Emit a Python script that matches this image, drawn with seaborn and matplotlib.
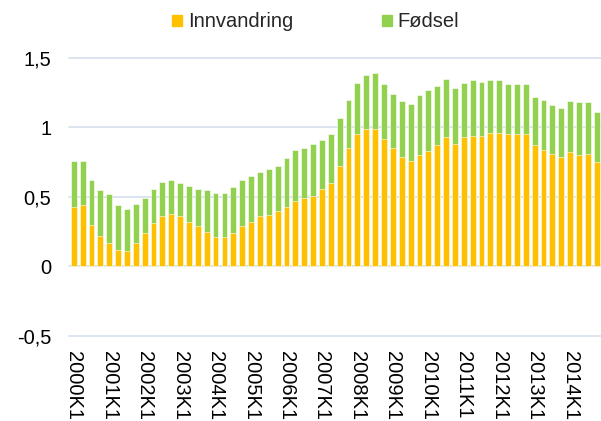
import matplotlib
matplotlib.use('Agg')
import matplotlib.pyplot as plt
from matplotlib.patches import Patch
from matplotlib.ticker import FuncFormatter
import seaborn as sns
import pandas as pd

# kvartaler 2000K1 - 2014K4
kvartal = [f'{aar}K{k}' for aar in range(2000, 2015) for k in range(1, 5)]

innvandring = [0.43, 0.44, 0.30, 0.22, 0.17, 0.12, 0.11, 0.17, 0.24, 0.31,
               0.36, 0.38, 0.36, 0.32, 0.29, 0.25, 0.21, 0.21, 0.24, 0.29,
               0.32, 0.36, 0.37, 0.40, 0.43, 0.47, 0.49, 0.51, 0.56, 0.60,
               0.72, 0.85, 0.95, 0.99, 0.99, 0.92, 0.85, 0.79, 0.76, 0.80,
               0.83, 0.87, 0.93, 0.88, 0.93, 0.94, 0.94, 0.96, 0.96, 0.95,
               0.95, 0.95, 0.87, 0.84, 0.81, 0.79, 0.82, 0.80, 0.81, 0.75]

fodsel = [0.33, 0.32, 0.32, 0.33, 0.35, 0.32, 0.30, 0.28, 0.25, 0.25,
          0.25, 0.24, 0.24, 0.26, 0.27, 0.30, 0.32, 0.32, 0.33, 0.33,
          0.33, 0.32, 0.33, 0.32, 0.35, 0.37, 0.36, 0.37, 0.35, 0.35,
          0.35, 0.35, 0.37, 0.39, 0.40, 0.39, 0.39, 0.40, 0.41, 0.43,
          0.44, 0.43, 0.42, 0.40, 0.39, 0.40, 0.39, 0.38, 0.38, 0.36,
          0.36, 0.36, 0.35, 0.36, 0.35, 0.35, 0.37, 0.38, 0.37, 0.36]

df = pd.DataFrame({'kvartal': kvartal, 'Innvandring': innvandring, 'Fødsel': fodsel})
df['total'] = df['Innvandring'] + df['Fødsel']

orange = '#FFC000'
green = '#92D050'

sns.set_theme(style='white')
plt.rcParams['font.family'] = ['Liberation Sans', 'DejaVu Sans']

fig = plt.figure(figsize=(6.01, 4.21), dpi=100)
ax = fig.add_axes([0.1153, 0.2019, 0.885, 0.6606])

# stablet: totalen i grønt, innvandring oppå i oransje
sns.barplot(data=df, x='kvartal', y='total', color=green, width=0.66,
            edgecolor='white', linewidth=0.4, saturation=1, ax=ax)
sns.barplot(data=df, x='kvartal', y='Innvandring', color=orange, width=0.66,
            edgecolor='white', linewidth=0.4, saturation=1, ax=ax)

ax.set_ylim(-0.5, 1.5)
ax.set_xlim(-0.5, 59.5)
ax.set_yticks([-0.5, 0, 0.5, 1, 1.5])
ax.yaxis.set_major_formatter(FuncFormatter(lambda v, p: f'{v:g}'.replace('.', ',')))
for yv in [-0.5, 0, 0.5, 1, 1.5]:
    ax.axhline(yv, color='#dce5ef', lw=1.4, zorder=0, clip_on=False)

pos = list(range(0, 60, 4))
ax.set_xticks(pos)
ax.set_xticklabels([kvartal[i] for i in pos], rotation=270, va='top', ha='center')
ax.tick_params(axis='x', length=0, pad=11, labelsize=14.5, colors='black')
ax.tick_params(axis='y', length=0, pad=13, labelsize=14.5, colors='black')
ax.set_xlabel('')
ax.set_ylabel('')
sns.despine(ax=ax, left=True, bottom=True)

handles = [Patch(color=orange, label='Innvandring'), Patch(color=green, label='Fødsel')]
fig.legend(handles=handles, loc='center', bbox_to_anchor=(0.525, 0.948), ncol=2,
           frameon=False, fontsize=14.5, handlelength=0.5, handleheight=0.5,
           handletextpad=0.3, columnspacing=4.4)

fig.savefig('out.png', dpi=100)
